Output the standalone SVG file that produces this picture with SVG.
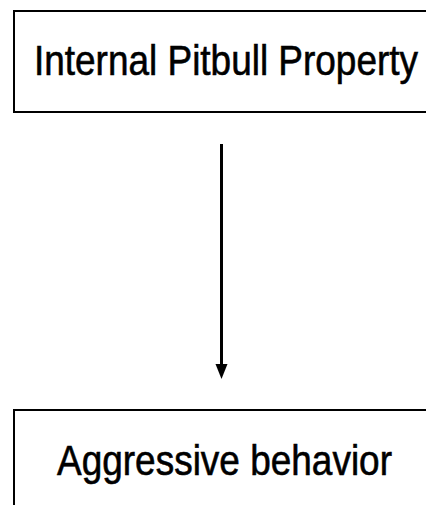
<svg xmlns="http://www.w3.org/2000/svg" width="426" height="505" viewBox="0 0 426 505">
<style>
.box{fill:#fff;stroke:#000;stroke-width:2}
.lbl{font-family:"Liberation Sans",Arial,sans-serif;font-size:42px;fill:#000;stroke:#000;stroke-width:0.6}
.conn{stroke:#000;stroke-width:3;fill:none}
.head{fill:#000}
</style>
<rect width="426" height="505" fill="#fff"/>
<g id="node-internal">
<rect class="box" x="14" y="11" width="430" height="101"/>
<text class="lbl" x="34" y="75" textLength="384" lengthAdjust="spacingAndGlyphs">Internal Pitbull Property</text>
</g>
<g id="node-aggressive">
<rect class="box" x="14" y="410" width="430" height="110"/>
<text class="lbl" x="57" y="475" textLength="335" lengthAdjust="spacingAndGlyphs">Aggressive behavior</text>
</g>
<g id="connectors">
<line class="conn" x1="221.5" y1="144" x2="221.5" y2="366"/>
<path class="head" d="M215.5,364 L227.5,364 L221.5,379 Z"/>
</g>
</svg>
